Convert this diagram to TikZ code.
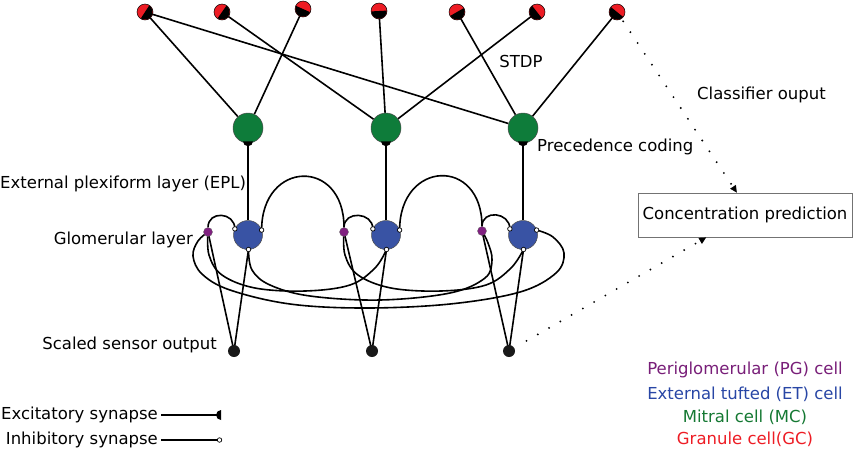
\documentclass[tikz,border=0pt]{standalone}
\usepackage{fontspec}
\setmainfont{DejaVu Sans}
\usetikzlibrary{calc,arrows.meta}
\pgfdeclarelayer{bg}
\pgfsetlayers{bg,main}
\definecolor{gcred}{RGB}{237,28,36}
\definecolor{mcgreen}{RGB}{14,124,58}
\definecolor{etblue}{RGB}{57,83,164}
\definecolor{pgpurple}{RGB}{128,32,128}
\definecolor{pgtext}{RGB}{120,30,120}
\definecolor{ettext}{RGB}{40,70,165}
\definecolor{mctext}{RGB}{20,120,50}
\definecolor{gctext}{RGB}{237,28,36}
\newcommand\gcell[3]{%
  \node[gc] (#1) at (#2) {};
  \fill[black] (#1.center) ++({#3+90}:7.6) arc[start angle={#3+90}, delta angle=-180, radius=7.6] -- cycle;
  \draw[line width=0.5pt] (#1.center) circle (8);
}
\newcommand\mcsyn[1]{\fill[black] ($(#1.south)+(-5,2)$) arc[start angle=180, end angle=360, radius=5] -- cycle;}
\begin{document}
\begin{tikzpicture}[x=1pt,y=1pt,
  wire/.style={line width=1.6pt, black},
  gc/.style={circle, fill=gcred, minimum size=16pt, inner sep=0pt},
  mc/.style={circle, fill=mcgreen, draw=black!70, line width=0.5pt, minimum size=30pt, inner sep=0pt},
  et/.style={circle, fill=etblue, draw=black!70, line width=0.5pt, minimum size=29pt, inner sep=0pt},
  pg/.style={circle, fill=pgpurple, draw=black!60, line width=0.3pt, minimum size=9pt, inner sep=0pt},
  sens/.style={circle, fill=black!90, minimum size=12pt, inner sep=0pt},
  inh/.style={circle, fill=white, draw=black, line width=0.7pt, minimum size=4.5pt, inner sep=0pt},
  lbl/.style={font=\fontsize{16.5}{19}\selectfont, inner sep=0pt},
  dotarrow/.style={line width=2.1pt, line cap=round, dash pattern=on 0pt off 13pt,
     -{Triangle[length=7pt,width=7pt,round=false,line width=0pt]}},
  curve/.style={wire, smooth, tension=0.6}
]
\useasboundingbox (0,0) rectangle (853,-448);

% granule cells
\gcell{gc1}{145,-12}{-33}
\gcell{gc2}{222,-12}{-35}
\gcell{gc3}{303,-9}{-114}
\gcell{gc4}{379,-11}{-87}
\gcell{gc5}{457,-12}{-60}
\gcell{gc6}{537,-12}{-142}
\gcell{gc7}{617,-12}{-129}

% mitral cells
\node[mc] (mc1) at (248,-128) {};
\node[mc] (mc2) at (386,-128) {};
\node[mc] (mc3) at (523,-128) {};
\mcsyn{mc1}\mcsyn{mc2}\mcsyn{mc3}

% external tufted cells
\node[et] (et1) at (248,-235) {};
\node[et] (et2) at (386,-235) {};
\node[et] (et3) at (523,-235) {};
\foreach \i in {1,2,3}{
  \coordinate (et\i l) at ($(et\i)+(155:14.5)$);
  \coordinate (et\i r) at ($(et\i)+(20:14.5)$);
  \coordinate (et\i b) at ($(et\i)+(-88:14.5)$);
}

% periglomerular cells
\node[pg] (pg1) at (208,-232) {};
\node[pg] (pg2) at (344,-232) {};
\node[pg] (pg3) at (482,-231) {};

% sensors
\node[sens] (s1) at (234,-351) {};
\node[sens] (s2) at (372,-351) {};
\node[sens] (s3) at (509,-351) {};

% inhibitory synapses on ET
\foreach \i in {1,2,3}{
  \node[inh] at (et\i l) {};
  \node[inh] at (et\i r) {};
  \node[inh] at (et\i b) {};
}

\begin{pgfonlayer}{bg}
  % GC - MC
  \draw[wire] (gc1.center) -- (mc1);
  \draw[wire] (gc1.center) -- (mc3);
  \draw[wire] (gc2.center) -- (mc2);
  \draw[wire] (gc3.center) -- (mc1);
  \draw[wire] (gc4.center) -- (mc2);
  \draw[wire] (gc5.center) -- (mc3);
  \draw[wire] (gc6.center) -- (mc2);
  \draw[wire] (gc7.center) -- (mc3);
  % ET - MC
  \draw[wire] (et1) -- (mc1.center);
  \draw[wire] (et2) -- (mc2.center);
  \draw[wire] (et3) -- (mc3.center);
  % small arcs PG -> ET left
  \draw[wire] (pg1.north) .. controls +(0,17) and +(0,17) .. (et1l);
  \draw[wire] (pg2.north) .. controls +(0,17) and +(0,17) .. (et2l);
  \draw[wire] (pg3.north) .. controls +(0,17) and +(0,17) .. (et3l);
  % big arcs ET right -> next PG
  \draw[wire] (et1r) .. controls +(0,70) and +(0,70) .. (pg2.north);
  \draw[wire] (et2r) .. controls +(0,70) and +(0,70) .. (pg3.north);
  % sensor lines
  \foreach \i in {1,2,3}{
    \draw[wire] (pg\i.center) -- (s\i.center);
    \draw[wire] (et\i b) -- (s\i.center);
  }
  % long loops
  \draw[curve] plot coordinates {(pg1.center) (209,-255) (222,-275) (255,-288) (305,-291) (350,-285) (375,-268) (et2b)};
  \draw[curve] plot coordinates {(pg2.center) (345,-255) (358,-275) (391,-288) (441,-291) (486,-285) (511,-268) (et3b)};
  \draw[curve] plot coordinates {(et1b) (252,-270) (270,-285) (310,-296) (380,-300) (450,-293) (485,-278) (492,-260) (488,-243) (pg3.center)};
  \draw[curve] plot coordinates {(pg1.center) (198,-241) (193,-256) (202,-274) (230,-290) (290,-304) (365,-308) (450,-304) (520,-292) (556,-273) (564,-253) (553,-237) (et3r)};
\end{pgfonlayer}

% labels
\node[lbl] (stdp) at (521,-61) {STDP};
\node[lbl, anchor=west] (clf) at (697,-95) {Classifier ouput};
\node[lbl, anchor=west] (prec) at (537,-147) {Precedence coding};
\node[lbl, anchor=west] (epl) at (0,-184) {External plexiform layer (EPL)};
\node[lbl, anchor=east] (glom) at (193,-240) {Glomerular layer};
\node[lbl, anchor=east] (sso) at (217,-345) {Scaled sensor output};

% concentration box
\node[lbl, draw=black!55, line width=0.8pt, minimum width=214pt, minimum height=44pt] (box) at (745,-215) {Concentration prediction};
\draw[dotarrow, shorten <=3pt] (gc7) -- (box.110);
\draw[dotarrow, shorten <=14pt] (s3) -- (box.210);

% synapse legend
\node[lbl, anchor=west] (exl) at (1,-415) {Excitatory synapse};
\node[lbl, anchor=east] (inl) at (exl.east |- 0,-440) {Inhibitory synapse};
\coordinate (exa) at ($(exl.east)+(3,0)$);
\coordinate (exb) at ($(exa)+(56,0)$);
\coordinate (ina) at ($(inl.east)+(3,0)$);
\coordinate (inb) at ($(ina)+(56.5,0)$);
\draw[wire] (exa) -- (exb);
\fill[black] ($(exb)+(4,5)$) arc[start angle=90, end angle=270, radius=5] -- cycle;
\draw[wire] (ina) -- (inb);
\node[inh] (inc) at ($(inb)+(2,0)$) {};

% cell legend
\node[lbl, text=pgtext] (lpg) at (745,-370) {Periglomerular (PG) cell};
\node[lbl, text=ettext] (let) at (745,-394) {External tufted (ET) cell};
\node[lbl, text=mctext] (lmc) at (745,-417) {Mitral cell (MC)};
\node[lbl, text=gctext] (lgc) at (745,-439) {Granule cell(GC)};
\end{tikzpicture}
\end{document}
